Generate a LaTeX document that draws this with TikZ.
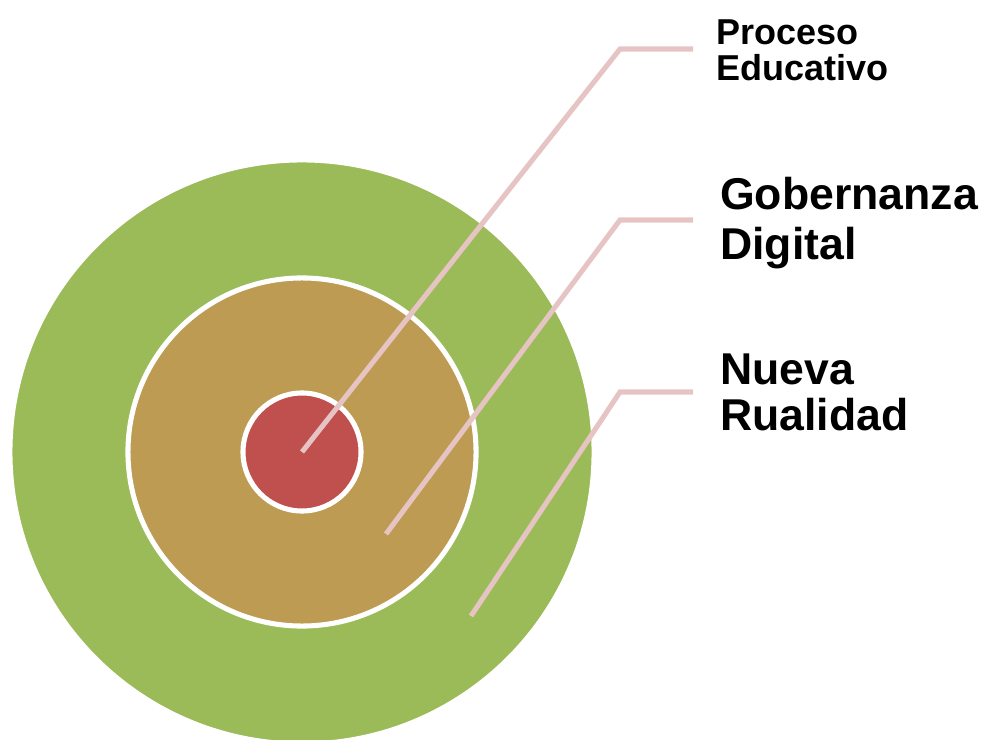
\documentclass[tikz,border=0pt]{standalone}
\usepackage{fontspec}
\setmainfont{Liberation Sans}
\usetikzlibrary{positioning}
\definecolor{ringgreen}{HTML}{9BBB59}
\definecolor{ringtan}{HTML}{BE9B53}
\definecolor{ringred}{HTML}{C0504D}
\definecolor{leadpink}{HTML}{E6C4C4}
\begin{document}
\begin{tikzpicture}[
    x=0.025cm, y=-0.025cm,
    ring/.style={circle, draw=white, line width=3.6pt, inner sep=0pt},
    leader/.style={draw=leadpink, line width=3.6pt},
    lbl/.style={anchor=base west, align=left, inner sep=0pt, font=\bfseries}
]
    \useasboundingbox (0,0) rectangle (983,740);

    % circulos
    \node[ring, fill=ringgreen, minimum size=14.6cm] (outer) at (302,452) {};
    \node[ring, fill=ringtan, minimum size=8.7cm] (middle) at (302,452) {};
    \node[ring, fill=ringred, minimum size=2.95cm] (core) at (302,452) {};

    % puntos de las lineas
    \coordinate (tip1) at (302,452);
    \coordinate (bend1) at (620,49);
    \coordinate (end1) at (693,49);
    \coordinate (tip2) at (386,534);
    \coordinate (bend2) at (620,220);
    \coordinate (end2) at (693,220);
    \coordinate (tip3) at (471,616);
    \coordinate (bend3) at (620,392);
    \coordinate (end3) at (693,392);

    % etiquetas
    \node[lbl, font=\bfseries\fontsize{25.6pt}{26.3pt}\selectfont] (educ) at (716,81) {Proceso\\Educativo};
    \node[lbl, font=\bfseries\fontsize{31.7pt}{35.6pt}\selectfont] (gober) at (720,260) {Gobernanza\\Digital};
    \node[lbl, font=\bfseries\fontsize{31.7pt}{32.7pt}\selectfont] (nueva) at (720,430) {Nueva\\Rualidad};

    % lineas
    \draw[leader] (tip1) -- (bend1) -- (end1);
    \draw[leader] (tip2) -- (bend2) -- (end2);
    \draw[leader] (tip3) -- (bend3) -- (end3);
\end{tikzpicture}
\end{document}
